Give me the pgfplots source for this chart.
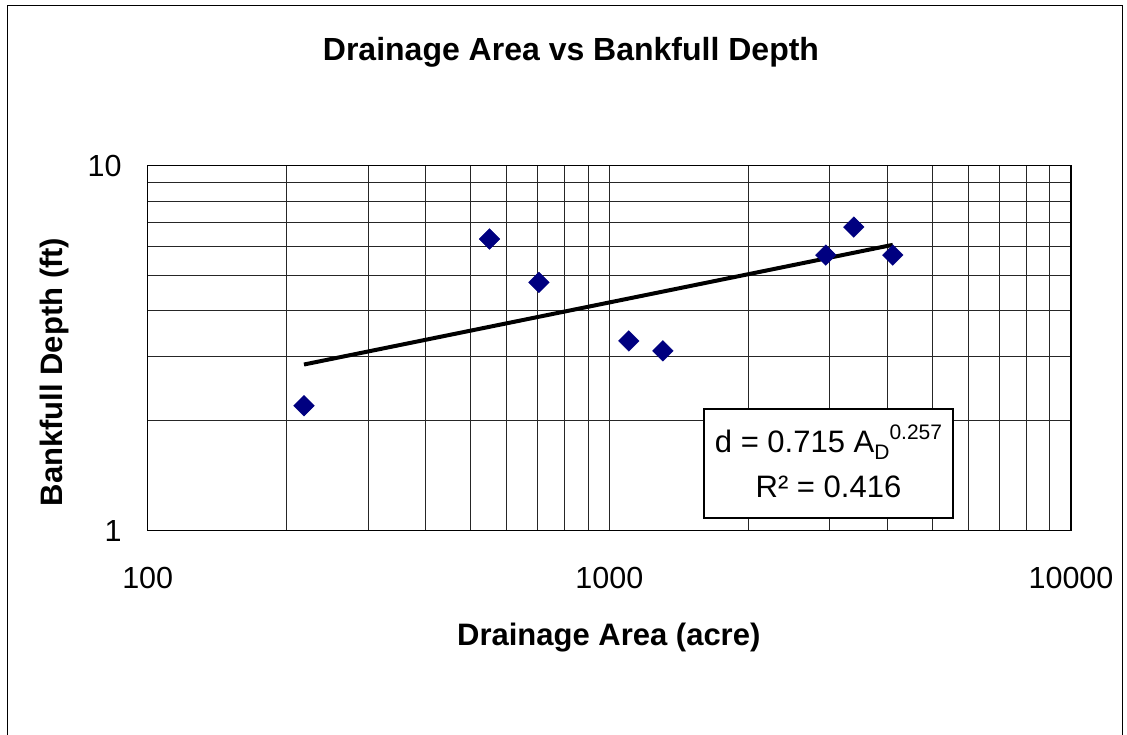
\documentclass[border=0pt]{standalone}
\usepackage{fontspec}
\setmainfont{Liberation Sans}
\usepackage{pgfplots}
\pgfplotsset{compat=1.18}
\definecolor{navy}{HTML}{000080}
\begin{document}
\begin{tikzpicture}
\useasboundingbox (0,0) rectangle (1127pt,734pt);
\fill[white] (0,0) rectangle (1127pt,734pt);
% outer chart border (open at the bottom, as cropped)
\draw[line width=1pt] (7.5pt,-20pt) -- (7.5pt,728.5pt) -- (1122.5pt,728.5pt) -- (1122.5pt,-20pt);
\begin{axis}[
  at={(147.7pt,203.3pt)}, anchor=south west,
  scale only axis, width=923.3pt, height=365pt,
  xmode=log, ymode=log,
  xmin=100, xmax=10000, ymin=1, ymax=10,
  xtick={100,1000,10000}, xticklabels={100,1000,10000},
  ytick={1,10}, yticklabels={1,10},
  minor xtick={200,300,400,500,600,700,800,900,2000,3000,4000,5000,6000,7000,8000,9000},
  minor ytick={2,3,4,5,6,7,8,9},
  grid=both,
  major grid style={black!85, line width=0.9pt},
  minor grid style={black!85, line width=0.9pt},
  major tick length=0pt, minor tick length=0pt,
  axis line style={line width=1.2pt},
  tick label style={font=\fontsize{30.5}{36}\selectfont},
  xticklabel style={anchor=base, yshift=-58pt},
  yticklabel style={anchor=east, inner sep=0pt, xshift=-26pt},
]
\addplot[only marks, color=navy, mark=square*, mark size=7.3pt,
  mark options={rotate=45, fill=navy, draw=navy}] coordinates {
  (218,2.20) (550,6.30) (704,4.79) (1102,3.31) (1306,3.11)
  (2943,5.69) (3384,6.79) (4111,5.69)
};
% power trendline d = 0.715 A^0.257, end points at the data range
\addplot[black, line width=4pt] coordinates {(218,2.853) (4111,6.07)};
\end{axis}
% trendline label
\draw[line width=2pt, fill=white] (704pt,324.7pt) rectangle (953.3pt,216.3pt);
\node[anchor=base, inner sep=0pt, font=\fontsize{31}{36}\selectfont] at (828.5pt,281pt)
  {d = 0.715 A\raisebox{-7pt}{\fontsize{21}{24}\selectfont D}\raisebox{13pt}{\fontsize{21}{24}\selectfont 0.257}};
\node[anchor=base, inner sep=0pt, font=\fontsize{31}{36}\selectfont] at (828.5pt,236pt)
  {R² = 0.416};
% titles
\node[anchor=base, inner sep=0pt, font=\bfseries\fontsize{32}{38}\selectfont] at (571pt,673pt)
  {Drainage Area vs Bankfull Depth};
\node[anchor=base, inner sep=0pt, font=\bfseries\fontsize{31}{36}\selectfont] at (608.8pt,89pt)
  {Drainage Area (acre)};
\node[anchor=base, inner sep=0pt, rotate=90, font=\bfseries\fontsize{31}{36}\selectfont] at (62pt,362pt)
  {Bankfull Depth (ft)};
\end{tikzpicture}
\end{document}
